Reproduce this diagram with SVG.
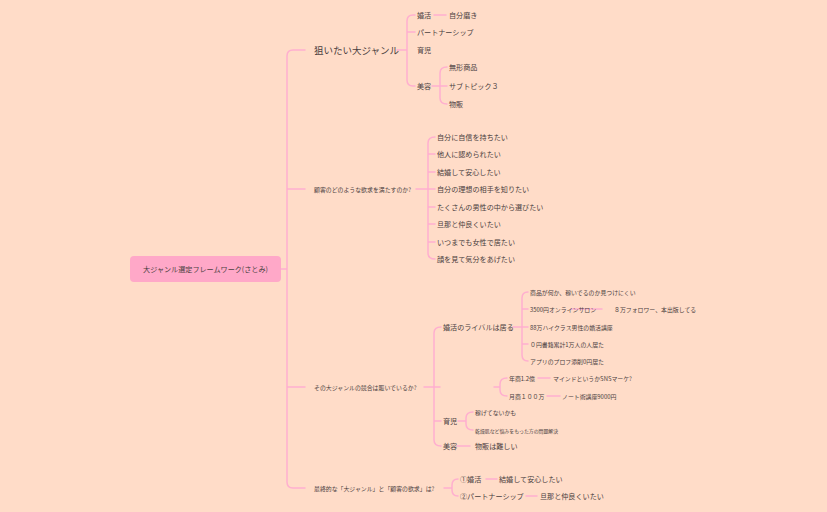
<svg xmlns="http://www.w3.org/2000/svg" width="827" height="512" viewBox="0 0 827 512">
<style>
.c{fill:none;stroke:#FFAFCF;stroke-width:1.5;stroke-linecap:round}
text{font-family:"Noto Sans CJK JP","Noto Sans",sans-serif;fill:#4a4040;dominant-baseline:central}
.s{font-size:7.1px}.m{font-size:5.9px}.l{font-size:9.5px}.x{font-size:4.9px}
</style>
<rect width="827" height="512" fill="#FFDCC8"/>
<g id="connectors">
<path class="c" d="M281 269H287M305 50H293Q287 50 287 56V482Q287 488 293 488H305M287 189H305M287 387H305"/>
<path class="c" d="M397 50H407M415 15H413Q407 15 407 21V80Q407 86 413 86H415M407 32H415M434 15H446M432 86H440M447 67Q440 67 440 73V98Q440 104 447 104M440 86H447"/>
<path class="c" d="M416 189H428M435 137Q428 137 428 143V253Q428 259 435 259M428 154H435M428 172H435M428 189H435M428 207H435M428 224H435M428 242H435"/>
<path class="c" d="M424 387H440M441 327Q434 327 434 333V440Q434 446 441 446M434 421H441"/>
<path class="c" d="M513 327H522M528 292Q522 292 522 298V355Q522 361 528 361M522 309H528M522 327H528M522 344H528M571 309H602"/>
<path class="c" d="M494 387H500M507 378Q500 378 500 384V390Q500 396 507 396M538 378H550M547 396H560"/>
<path class="c" d="M458 421H466M473 412Q466 412 466 418V424Q466 430 473 430M457 446H470"/>
<path class="c" d="M444 488H452M458 479Q452 479 452 485V490Q452 496 458 496M486 479H497M526 496H537"/>
</g>
<g id="root"><rect x="130" y="256" width="151" height="26" rx="4" fill="#FFA8C8"/><text x="205.5" y="269" class="s" text-anchor="middle">大ジャンル選定フレームワーク(さとみ)</text></g>
<g id="b1"><text x="314" y="50" class="l">狙いたい大ジャンル</text>
<text x="417" y="15" class="s">婚活</text><text x="449" y="15" class="s">自分磨き</text>
<text x="417" y="32" class="s">パートナーシップ</text><text x="417" y="50" class="s">育児</text><text x="417" y="86" class="s">美容</text>
<text x="449" y="67" class="s">無形商品</text><text x="449" y="86" class="s">サブトピック３</text><text x="449" y="104" class="s">物販</text></g>
<g id="b2"><text x="314" y="189" class="m">顧客のどのような欲求を満たすのか?</text>
<text x="437" y="137" class="s">自分に自信を持ちたい</text><text x="437" y="154" class="s">他人に認められたい</text><text x="437" y="172" class="s">結婚して安心したい</text><text x="437" y="189" class="s">自分の理想の相手を知りたい</text><text x="437" y="207" class="s">たくさんの男性の中から選びたい</text><text x="437" y="224" class="s">旦那と仲良くいたい</text><text x="437" y="242" class="s">いつまでも女性で居たい</text><text x="437" y="259" class="s">顔を見て気分をあげたい</text></g>
<g id="b3"><text x="314" y="387" class="m">その大ジャンルの競合は賑いでいるか?</text>
<text x="443" y="327" class="s">婚活のライバルは居る</text>
<text x="530" y="292" class="m">商品が何か、稼いでるのか見つけにくい</text><text x="530" y="309" class="m">3500円オンラインサロン</text><text x="614" y="309" class="m">８万フォロワー、本出版してる</text><text x="530" y="327" class="m">88万ハイクラス男性の婚活講座</text><text x="530" y="344" class="m">０円書籍累計1万人の人居た</text><text x="530" y="361" class="m">アプリのプロフ添削0円居た</text>
<text x="509" y="378" class="m">年商1.2億</text><text x="553" y="378" class="m">マインドというかSNSマーケ?</text><text x="509" y="396" class="m">月商１００万</text><text x="562" y="396" class="m">ノート術講座9000円</text>
<text x="443" y="421" class="s">育児</text><text x="475" y="412" class="m">稼げてないかも</text><text x="475" y="430" class="x">乾燥肌など悩みをもった方の問題解決</text>
<text x="443" y="446" class="s">美容</text><text x="475" y="446" class="s">物販は難しい</text></g>
<g id="b4"><text x="314" y="488" class="m">最終的な「大ジャンル」と「顧客の欲求」は?</text>
<text x="460" y="479" class="s">①婚活</text><text x="499" y="479" class="s">結婚して安心したい</text><text x="460" y="496" class="s">②パートナーシップ</text><text x="540" y="496" class="s">旦那と仲良くいたい</text></g>
</svg>
